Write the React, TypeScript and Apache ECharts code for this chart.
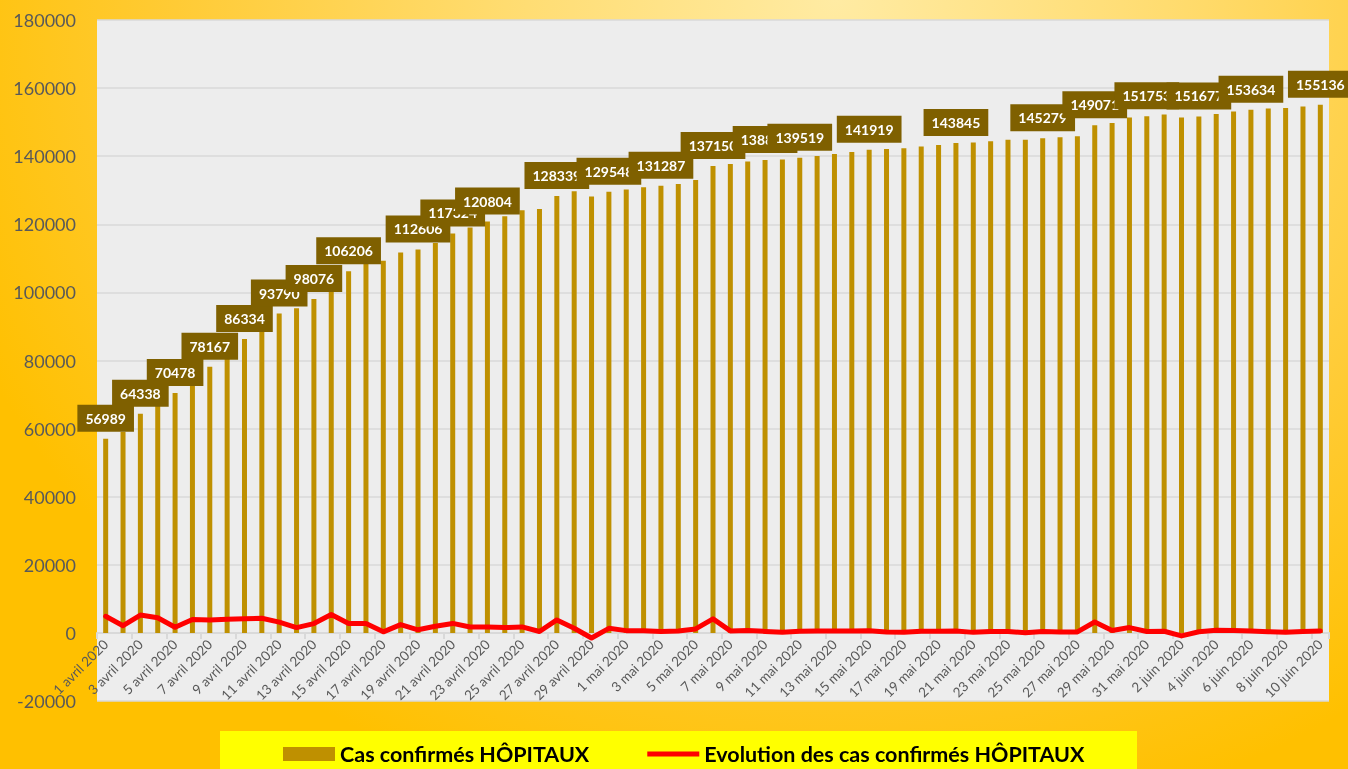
import React, { useEffect, useRef } from "react";
import * as echarts from "echarts";

const categories: string[] = [
  "1 avril 2020", "2 avril 2020", "3 avril 2020", "4 avril 2020", "5 avril 2020", "6 avril 2020",
  "7 avril 2020", "8 avril 2020", "9 avril 2020", "10 avril 2020", "11 avril 2020", "12 avril 2020",
  "13 avril 2020", "14 avril 2020", "15 avril 2020", "16 avril 2020", "17 avril 2020", "18 avril 2020",
  "19 avril 2020", "20 avril 2020", "21 avril 2020", "22 avril 2020", "23 avril 2020", "24 avril 2020",
  "25 avril 2020", "26 avril 2020", "27 avril 2020", "28 avril 2020", "29 avril 2020", "30 avril 2020",
  "1 mai 2020", "2 mai 2020", "3 mai 2020", "4 mai 2020", "5 mai 2020", "6 mai 2020",
  "7 mai 2020", "8 mai 2020", "9 mai 2020", "10 mai 2020", "11 mai 2020", "12 mai 2020",
  "13 mai 2020", "14 mai 2020", "15 mai 2020", "16 mai 2020", "17 mai 2020", "18 mai 2020",
  "19 mai 2020", "20 mai 2020", "21 mai 2020", "22 mai 2020", "23 mai 2020", "24 mai 2020",
  "25 mai 2020", "26 mai 2020", "27 mai 2020", "28 mai 2020", "29 mai 2020", "30 mai 2020",
  "31 mai 2020", "1 juin 2020", "2 juin 2020", "3 juin 2020", "4 juin 2020", "5 juin 2020",
  "6 juin 2020", "7 juin 2020", "8 juin 2020", "9 juin 2020", "10 juin 2020",
];

const casConfirmes: number[] = [
  56989, 59100, 64338, 68800, 70478, 74400, 78167, 82160, 86334, 90620,
  93790, 95340, 98076, 103470, 106206, 108950, 109260, 111690, 112606, 114540,
  117324, 119040, 120804, 122360, 124120, 124530, 128339, 129700, 128200, 129548,
  130210, 130870, 131287, 131870, 133040, 137150, 137740, 138420, 138854, 139010,
  139519, 140090, 140680, 141270, 141919, 142150, 142330, 142830, 143320, 143845,
  144000, 144390, 144800, 144850, 145279, 145560, 145860, 149071, 149780, 151340,
  151753, 152230, 151340, 151677, 152430, 153110, 153634, 153990, 154190, 154580,
  155136,
];

const evolution: number[] = [
  4870, 2111, 5238, 4462, 1678, 3922, 3767, 3993, 4174, 4286,
  3170, 1550, 2736, 5394, 2736, 2744, 310, 2430, 916, 1934,
  2784, 1716, 1764, 1556, 1760, 410, 3809, 1361, -1500, 1348,
  662, 660, 417, 583, 1170, 4110, 590, 680, 434, 156,
  509, 571, 590, 590, 649, 231, 180, 500, 490, 525,
  155, 390, 410, 50, 429, 281, 300, 3211, 709, 1560,
  413, 477, -890, 337, 753, 680, 524, 356, 200, 390,
  556,
];

// indices of bars that carry a data label
const labeledIndices: number[] = [
  0, 2, 4, 6, 8, 10, 12, 14, 18, 20, 22, 26, 29, 32, 35, 38, 40, 44, 49, 54, 57, 60, 63, 66, 70,
];

const yTicks = { min: -20000, max: 180000, interval: 20000 };

const SERIES_BAR = "Cas confirmés HÔPITAUX";
const SERIES_LINE = "Evolution des cas confirmés HÔPITAUX";

export default function App() {
  const ref = useRef<HTMLDivElement>(null);

  useEffect(() => {
    if (!ref.current) return;
    const chart = echarts.init(ref.current, undefined, { renderer: "svg" });

    const barData = casConfirmes.map((v, i) => ({
      value: v,
      label: { show: labeledIndices.includes(i) },
    }));

    const gridTop = 20;
    const gridBottom = 68;
    const plotHeight = 769 - gridTop - gridBottom;
    const zeroOffset = -(plotHeight * (0 - yTicks.min)) / (yTicks.max - yTicks.min);

    const option: any = {
      animation: false,
      textStyle: { fontFamily: "Lato" },
      grid: {
        left: 97,
        top: gridTop,
        right: 19,
        bottom: gridBottom,
        show: true,
        backgroundColor: "#EDEDED",
        borderWidth: 0,
        outerBoundsMode: "none",
        containLabel: false,
      },
      graphic: [
        {
          type: "rect",
          left: 220,
          top: 731,
          z: 0,
          shape: { width: 917, height: 40 },
          style: { fill: "#FFFF00" },
        },
      ],
      legend: {
        left: 278,
        top: 738,
        itemWidth: 52,
        itemHeight: 14,
        itemGap: 58,
        z: 10,
        textStyle: { fontSize: 21.5, fontWeight: "bold", color: "#000000", fontFamily: "Lato" },
        data: [
          { name: SERIES_BAR, icon: "rect" },
          { name: SERIES_LINE, icon: "path://M0,0 M52,14 M0,4.5 L52,4.5 L52,9.5 L0,9.5 Z" },
        ],
      },
      xAxis: {
        type: "category",
        data: categories,
        position: "bottom",
        offset: zeroOffset,
        axisLine: { onZero: false, lineStyle: { color: "#D9D9D9", width: 2 } },
        axisTick: { show: true, interval: 1, length: 6, lineStyle: { color: "#D9D9D9", width: 2 } },
        axisLabel: { interval: 1, rotate: 45, color: "#595959", fontSize: 13.5, margin: 9, fontFamily: "Lato" },
      },
      yAxis: {
        type: "value",
        min: yTicks.min,
        max: yTicks.max,
        interval: yTicks.interval,
        axisLine: { show: false },
        axisTick: { show: false },
        axisLabel: {
          color: "#595959",
          fontSize: 18,
          margin: 21,
          fontFamily: "Lato",
          formatter: (v: number) => String(v),
        },
        splitLine: { lineStyle: { color: "#D9D9D9", width: 1.5 } },
      },
      series: [
        {
          name: SERIES_BAR,
          type: "bar",
          data: barData,
          barWidth: 5,
          itemStyle: { color: "#BF9000" },
          label: {
            show: false,
            position: "top",
            distance: 7,
            backgroundColor: "#7F6000",
            color: "#FFFFFF",
            fontWeight: "bold",
            fontSize: 14,
            fontFamily: "Lato",
            lineHeight: 17,
            padding: [5, 8],
          },
        },
        {
          name: SERIES_LINE,
          type: "line",
          data: evolution,
          symbol: "none",
          showSymbol: false,
          itemStyle: { color: "#FF0000" },
          lineStyle: { color: "#FF0000", width: 5, cap: "round", join: "round" },
          z: 5,
        },
      ],
    };

    chart.setOption(option);
    return () => chart.dispose();
  }, []);

  return (
    <div
      style={{
        position: "fixed",
        left: 0,
        top: 0,
        width: 1348,
        height: 769,
        background:
          "radial-gradient(ellipse 70% 110% at 62% 0%, #FFEBA3 0%, #FFDC70 35%, #FFCB35 70%, #FFC000 100%)",
      }}
    >
      <div ref={ref} style={{ width: 1348, height: 769 }} />
    </div>
  );
}
